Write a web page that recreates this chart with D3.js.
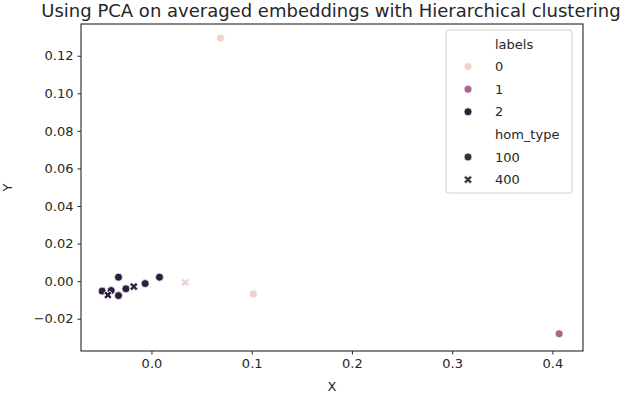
<!DOCTYPE html>
<html><head><meta charset="utf-8">
<script src="https://cdn.jsdelivr.net/npm/d3@7"></script>
<style>body{margin:0;background:#fff}text{font-family:"DejaVu Sans",sans-serif}</style>
</head><body><svg id="c" width="620" height="394"></svg>
<script>
const xVals = [0.0689, 0.1017, 0.0336, 0.4067, -0.0329, 0.0080, -0.0063, -0.0492, -0.0402, -0.0329, -0.0255, -0.0176, -0.0435];
const yVals = [0.1294, -0.0069, -0.0007, -0.0280, 0.0021, 0.0021, -0.0013, -0.0053, -0.0050, -0.0077, -0.0041, -0.0029, -0.0074];
const labelVals = [0, 0, 0, 1, 2, 2, 2, 2, 2, 2, 2, 2, 2];
const homVals = [100, 100, 400, 100, 100, 100, 100, 100, 100, 100, 100, 400, 400];
const xTicks = [0.0, 0.1, 0.2, 0.3, 0.4];
const yTicks = [-0.02, 0.00, 0.02, 0.04, 0.06, 0.08, 0.10, 0.12];
const labelCats = [0, 1, 2];
const homCats = [100, 400];
const palette = ["#edd1cb", "#aa6290", "#2d1e3e"];

const svg = d3.select("#c");
const L = 81, R = 583, T = 24, B = 351;
const x = d3.scaleLinear().domain([-0.0703, 0.4305]).range([L, R]);
const y = d3.scaleLinear().domain([-0.0372, 0.1369]).range([B, T]);
const color = d3.scaleOrdinal().domain(labelCats).range(palette);
const ink = "#262626";

const gx = svg.append("g").attr("transform", `translate(0,${B})`)
  .call(d3.axisBottom(x).tickValues(xTicks).tickFormat(d3.format(".1f")).tickSize(3.5).tickPadding(4));
const gy = svg.append("g").attr("transform", `translate(${L},0)`)
  .call(d3.axisLeft(y).tickValues(yTicks).tickFormat(d => d3.format(".2f")(d).replace("-", "\u2212")).tickSize(3.5).tickPadding(4));
[gx, gy].forEach(g => {
  g.select(".domain").remove();
  g.selectAll("line").attr("stroke", ink);
  g.selectAll("text").attr("fill", ink).style("font-size", "13px").style("font-family", "DejaVu Sans");
});
svg.append("rect").attr("x", L).attr("y", T).attr("width", R - L).attr("height", B - T)
  .attr("fill", "none").attr("stroke", ink).attr("stroke-width", 1.1);

const circle = d3.symbol().type(d3.symbolCircle).size(50);
const cross = d3.symbol().type(d3.symbolCross).size(42);
const pts = xVals.map((v, i) => ({x: v, y: yVals[i], l: labelVals[i], h: homVals[i]}));
svg.append("g").selectAll("path").data(pts).join("path")
  .attr("d", d => d.h === 100 ? circle() : cross())
  .attr("transform", d => `translate(${x(d.x)},${y(d.y)})` + (d.h === 400 ? " rotate(45)" : ""))
  .attr("fill", d => color(d.l)).attr("stroke", "#fff").attr("stroke-width", 0.75);

svg.append("text").attr("x", 331).attr("y", 17).attr("text-anchor", "middle")
  .style("font-size", "18px").attr("fill", ink).text("Using PCA on averaged embeddings with Hierarchical clustering");
svg.append("text").attr("x", (L + R) / 2).attr("y", 391).attr("text-anchor", "middle")
  .style("font-size", "13px").attr("fill", ink).text("X");
svg.append("text").attr("transform", `translate(12,${(T + B) / 2}) rotate(-90)`).attr("text-anchor", "middle")
  .style("font-size", "13px").attr("fill", ink).text("Y");

// legend
const lg = svg.append("g");
lg.append("rect").attr("x", 446).attr("y", 30).attr("width", 126).attr("height", 163).attr("rx", 3)
  .attr("fill", "#fff").attr("fill-opacity", 0.8).attr("stroke", "#d0d0d0");
const rows = [
  {t: "labels", title: true},
  ...labelCats.map(c => ({t: String(c), col: color(c), m: "o"})),
  {t: "hom_type", title: true},
  {t: String(homCats[0]), col: "#333", m: "o"},
  {t: String(homCats[1]), col: "#333", m: "x"}
];
rows.forEach((r, i) => {
  const cy = 44 + i * 22.6;
  if (!r.title) {
    lg.append("path").attr("d", r.m === "o" ? circle() : cross())
      .attr("transform", `translate(468,${cy})` + (r.m === "x" ? " rotate(45)" : ""))
      .attr("fill", r.col).attr("stroke", "#fff").attr("stroke-width", 0.75);
  }
  lg.append("text").attr("x", 495).attr("y", cy).attr("dy", "0.35em")
    .style("font-size", "13px").attr("fill", ink).text(r.t);
});
</script></body></html>
